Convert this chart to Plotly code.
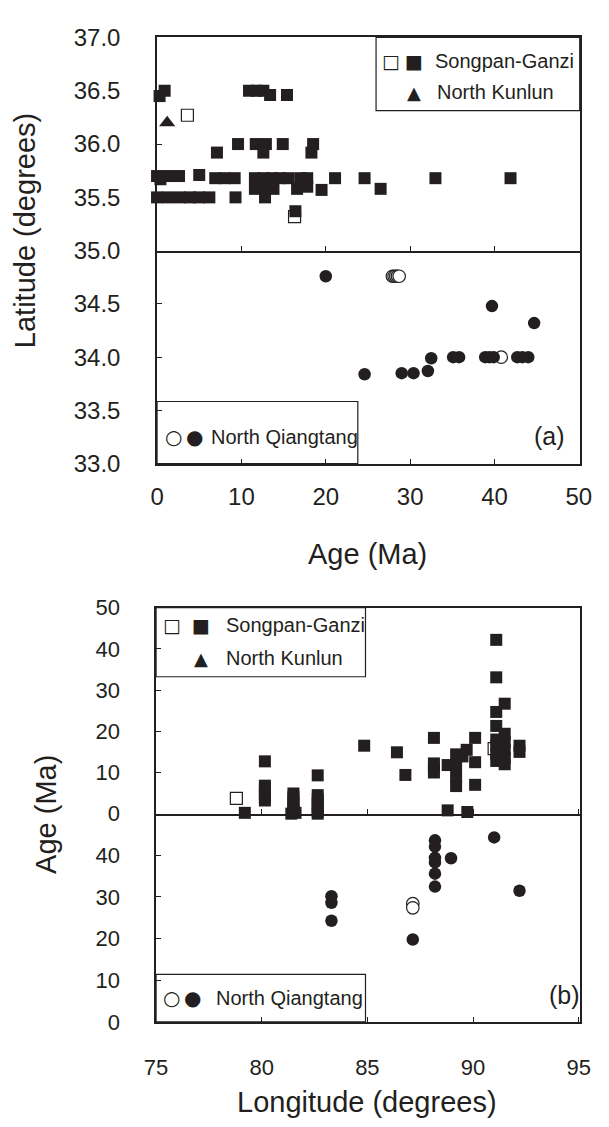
import plotly.graph_objects as go

INK = "#231f20"
FONT = "Liberation Sans, Arial, sans-serif"

# ---------------- Panel (a): Age (Ma) vs Latitude ----------------
sg_open_age_a = [3.6, 16.3]
sg_open_lat_a = [36.27, 35.32]
sg_age_a = [0.3, 0.9, 10.9, 11.8, 12.6, 13.4, 15.4,
            9.6, 11.7, 12.9, 14.9, 18.5,
            7.1, 12.6, 18.3,
            0.0, 0.4, 1.3, 2.6, 5.0, 6.9, 8.0, 9.2, 11.6, 12.6, 13.6, 14.6, 15.6, 17.0, 17.8,
            21.1, 24.6, 33.0, 41.9,
            11.6, 12.8, 13.8, 16.6, 17.8, 19.5, 26.5,
            0.0, 1.3, 2.7, 3.9, 5.0, 6.2, 9.3, 12.8,
            16.4]
sg_lat_a = [36.45, 36.5, 36.5, 36.5, 36.5, 36.46, 36.46,
            36.0, 36.0, 36.0, 36.0, 36.0,
            35.92, 35.92, 35.92,
            35.7, 35.67, 35.7, 35.7, 35.71, 35.68, 35.68, 35.68, 35.68, 35.68, 35.68, 35.68, 35.68, 35.68, 35.68,
            35.68, 35.68, 35.68, 35.68,
            35.58, 35.6, 35.58, 35.58, 35.6, 35.57, 35.58,
            35.5, 35.5, 35.5, 35.5, 35.5, 35.5, 35.5, 35.5,
            35.37]
nk_age_a = [1.2]
nk_lat_a = [36.2]
nq_open_age_a = [27.9, 28.1, 28.3, 28.5, 28.7, 40.8]
nq_open_lat_a = [34.76, 34.76, 34.76, 34.76, 34.76, 34.0]
nq_age_a = [20.0, 24.6, 29.0, 30.4, 32.1, 32.5, 35.1, 35.8, 38.9, 39.4, 39.9, 39.7,
            42.7, 43.3, 44.0, 44.7]
nq_lat_a = [34.76, 33.84, 33.85, 33.85, 33.87, 33.99, 34.0, 34.0, 34.0, 34.0, 34.0, 34.48,
            34.0, 34.0, 34.0, 34.32]

# ---------------- Panel (b): Longitude vs Age (Ma) ----------------
sg_open_lon_b = [78.8, 91.0]
sg_open_age_b = [3.7, 15.8]
sg_lon_b = [79.2,
            80.15, 80.15, 80.15, 80.15, 80.15, 80.15,
            81.5, 81.5, 81.5, 81.5, 81.5, 81.5, 81.4, 81.6,
            82.65, 82.65, 82.65, 82.65, 82.65, 82.65, 82.65,
            84.85, 86.4, 86.8,
            88.15, 88.15, 88.15, 88.15,
            88.8, 88.8,
            89.2, 89.2, 89.2, 89.2, 89.5, 89.7, 89.73,
            90.1, 90.1, 90.1,
            91.1, 91.1, 91.1, 91.1, 91.1, 91.1, 91.1, 91.1,
            91.5, 91.5, 91.5, 91.5, 91.5, 91.5,
            92.2, 92.2]
sg_age_b = [0.2,
            12.7, 6.8, 6.0, 5.0, 4.0, 3.2,
            4.9, 4.0, 3.0, 2.0, 1.2, 0.4, 0.0, 0.2,
            9.3, 4.5, 3.5, 2.5, 1.5, 0.5, 0.0,
            16.5, 14.9, 9.4,
            18.4, 12.2, 11.1, 10.0,
            11.8, 0.8,
            14.4, 11.8, 9.0, 6.7, 13.9, 15.5, 0.4,
            18.4, 12.5, 7.0,
            42.2, 33.1, 24.7, 21.3, 18.0, 16.5, 14.5, 12.8,
            26.7, 19.4, 17.5, 15.5, 13.5, 12.0,
            16.5, 15.0]
nq_open_lon_b = [87.15, 87.15]
nq_open_age_b = [28.4, 27.4]
nq_lon_b = [83.3, 83.3, 83.3, 87.15, 88.2, 88.2, 88.2, 88.2, 88.2, 88.2, 88.96, 91.0, 92.2]
nq_age_b = [30.2, 28.6, 24.3, 19.8, 43.6, 42.1, 39.4, 38.3, 35.6, 32.5, 39.3, 44.3, 31.5]

# tick labels
lat_ticks_upper = [35.0, 35.5, 36.0, 36.5, 37.0]
lat_ticks_lower = [33.0, 33.5, 34.0, 34.5]
age_ticks_x = [0, 10, 20, 30, 40, 50]
lon_ticks = [75, 80, 85, 90, 95]
age_ticks_upper = [0, 10, 20, 30, 40, 50]
age_ticks_lower = [0, 10, 20, 30, 40]

W, H = 609, 1127
def fx(px): return px / W
def fy(py): return 1 - py / H

SQ = 12
CI = 12.5

def filled(x, y, sym, size, xa, ya):
    return go.Scatter(x=x, y=y, mode="markers", xaxis=xa, yaxis=ya, cliponaxis=False,
                      marker=dict(symbol=sym, size=size, color=INK, line=dict(width=0)),
                      showlegend=False, hoverinfo="skip")

def opened(x, y, sym, size, xa, ya):
    return go.Scatter(x=x, y=y, mode="markers", xaxis=xa, yaxis=ya, cliponaxis=False,
                      marker=dict(symbol=sym, size=size, color="white", line=dict(width=1.2, color=INK)),
                      showlegend=False, hoverinfo="skip")

fig = go.Figure()
# panel (a)
fig.add_trace(opened(sg_open_age_a, sg_open_lat_a, "square", SQ, "x", "y"))
fig.add_trace(filled(sg_age_a, sg_lat_a, "square", SQ, "x", "y"))
fig.add_trace(filled(nk_age_a, nk_lat_a, "triangle-up", 14, "x", "y"))
fig.add_trace(opened(nq_open_age_a, nq_open_lat_a, "circle", CI, "x2", "y2"))
fig.add_trace(filled(nq_age_a, nq_lat_a, "circle", CI, "x2", "y2"))
# panel (b)
fig.add_trace(opened(sg_open_lon_b, sg_open_age_b, "square", SQ, "x3", "y3"))
fig.add_trace(filled(sg_lon_b, sg_age_b, "square", SQ, "x3", "y3"))
fig.add_trace(opened(nq_open_lon_b, nq_open_age_b, "circle", CI, "x4", "y4"))
fig.add_trace(filled(nq_lon_b, nq_age_b, "circle", CI, "x4", "y4"))

def base(size):
    return dict(showline=True, linecolor=INK, linewidth=1.6, mirror=True,
                ticks="inside", ticklen=5, tickwidth=1, tickcolor=INK,
                showgrid=False, zeroline=False,
                tickfont=dict(family=FONT, size=size, color=INK))

xa_dom = [fx(151), fx(591)]
xb_dom = [fx(150), fx(591)]

fig.update_layout(
    width=W, height=H, margin=dict(l=0, r=0, t=0, b=0),
    paper_bgcolor="white", plot_bgcolor="white",
    font=dict(family=FONT, color=INK),
    xaxis=dict(base(24), domain=xa_dom, range=[0, 50.1], anchor="y",
               tickvals=age_ticks_x, showticklabels=False),
    yaxis=dict(base(24), domain=[fy(242.5), fy(24)], range=[35, 37], anchor="x",
               tickvals=lat_ticks_upper, ticktext=[f"{v:.1f}" for v in lat_ticks_upper],
               ticklabelstandoff=30),
    xaxis2=dict(base(24), domain=xa_dom, range=[0, 50.1], anchor="y2", mirror=False,
                tickvals=age_ticks_x, ticklabelstandoff=11),
    yaxis2=dict(base(24), domain=[fy(460.7), fy(242.5)], range=[33, 35], anchor="x2",
                tickvals=lat_ticks_lower, ticktext=[f"{v:.1f}" for v in lat_ticks_lower],
                ticklabelstandoff=30),
    xaxis3=dict(base(22), domain=xb_dom, range=[75, 95.05], anchor="y3",
                tickvals=lon_ticks, showticklabels=False),
    yaxis3=dict(base(22), domain=[fy(819.3), fy(608.3)], range=[0, 50], anchor="x3",
                tickvals=age_ticks_upper, ticklabelstandoff=30),
    xaxis4=dict(base(22), domain=xb_dom, range=[75, 95.05], anchor="y4", mirror=False,
                tickvals=lon_ticks, ticklabelstandoff=25),
    yaxis4=dict(base(22), domain=[fy(1032.7), fy(819.3)], range=[0, 50], anchor="x4",
                tickvals=age_ticks_lower, ticklabelstandoff=30),
)

# legend boxes
box = dict(type="rect", xref="paper", yref="paper", line=dict(color=INK, width=1.2),
           fillcolor="white", layer="below")
fig.add_shape(box, x0=fx(379), x1=fx(591), y0=fy(99), y1=fy(24))
fig.add_shape(box, x0=fx(151), x1=fx(360), y0=fy(460.7), y1=fy(397))
fig.add_shape(box, x0=fx(150), x1=fx(368), y0=fy(679), y1=fy(608.3))
fig.add_shape(box, x0=fx(150), x1=fx(368), y0=fy(1032.7), y1=fy(984))

def ann(text, x, y, size=20, xanchor="left", angle=0, family=FONT):
    fig.add_annotation(text=text, x=fx(x), y=fy(y), xref="paper", yref="paper",
                       showarrow=False, xanchor=xanchor, yanchor="middle", textangle=angle,
                       font=dict(family=family, size=size, color=INK))

SYM = "DejaVu Sans"
# legend (a) top
ann("□", 395, 48, 19, "center", family=SYM)
ann("■", 419, 48, 19, "center", family=SYM)
ann("Songpan-Ganzi", 438, 48)
ann("▲", 419, 80, 18, "center", family=SYM)
ann("North Kunlun", 440, 80)
# legend (a) bottom
ann("○", 168, 433, 20, "center", family=SYM)
ann("●", 190, 433, 20, "center", family=SYM)
ann("North Qiangtang", 205, 433)
ann("(a)", 560, 432, 25, "center")
# legend (b) top
ann("□", 167, 626, 19, "center", family=SYM)
ann("■", 197, 626, 19, "center", family=SYM)
ann("Songpan-Ganzi", 221, 626)
ann("▲", 197, 660, 18, "center", family=SYM)
ann("North Kunlun", 221, 660)
# legend (b) bottom
ann("○", 166, 1008, 20, "center", family=SYM)
ann("●", 188, 1008, 20, "center", family=SYM)
ann("North Qiangtang", 210, 1008)
ann("(b)", 575, 1005, 25, "center")

# axis titles
ann("Latitude (degrees)", 13, 222, 29, "center", angle=-90)
ann("Age (Ma)", 370, 553, 29, "center")
ann("Age (Ma)", 36, 820, 29, "center", angle=-90)
ann("Longitude (degrees)", 370, 1115, 29, "center")

fig.write_html("out.html")
